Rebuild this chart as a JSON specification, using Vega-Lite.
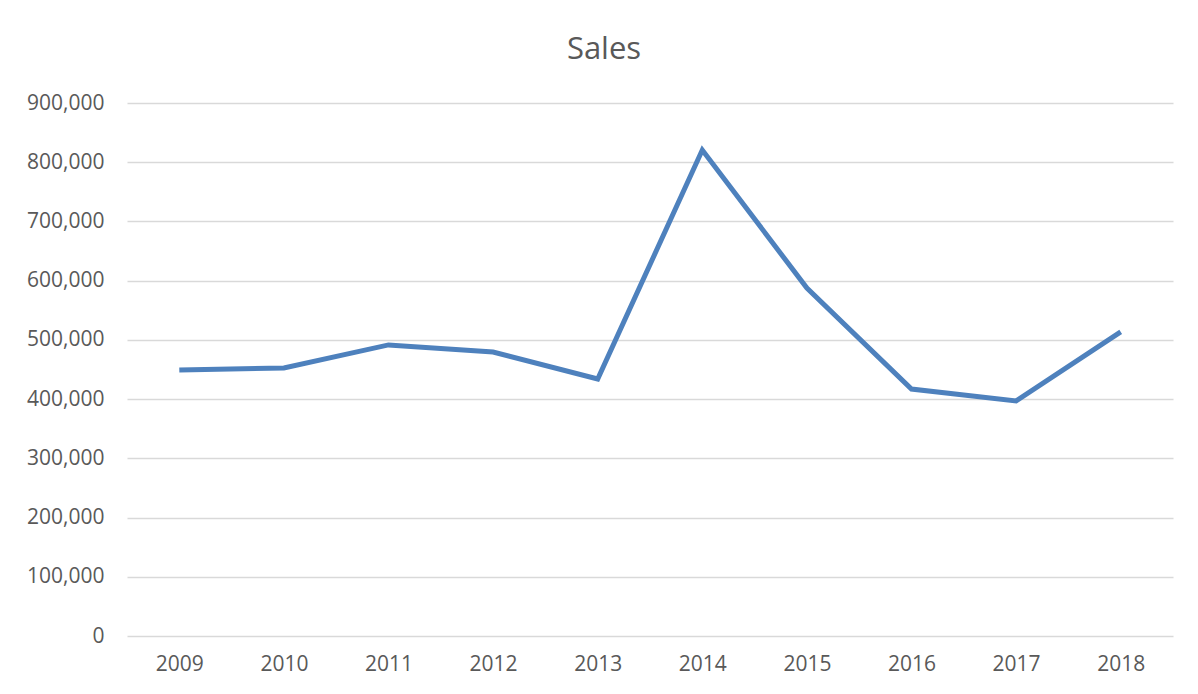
{
  "$schema": "https://vega.github.io/schema/vega-lite/v6.json",
  "autosize": "none",
  "width": 1046,
  "height": 533,
  "padding": {"left": 127, "top": 103, "right": 25, "bottom": 58},
  "background": "white",
  "title": {"text": "Sales", "fontSize": 31, "font": "Open Sans", "fontWeight": "normal", "color": "#595959", "anchor": "middle", "dx": -46, "offset": 26},
  "data": {"values": [
    {"year": "2009", "sales": 449000},
    {"year": "2010", "sales": 452500},
    {"year": "2011", "sales": 491500},
    {"year": "2012", "sales": 479500},
    {"year": "2013", "sales": 434000},
    {"year": "2014", "sales": 820500},
    {"year": "2015", "sales": 587500},
    {"year": "2016", "sales": 417000},
    {"year": "2017", "sales": 397000},
    {"year": "2018", "sales": 513500}
  ]},
  "mark": {"type": "line", "color": "#4E81BD", "strokeWidth": 5, "strokeJoin": "miter", "strokeCap": "butt"},
  "encoding": {
    "x": {"field": "year", "type": "ordinal", "scale": {"type": "point", "padding": 0.5},
      "axis": {"title": null, "labelAngle": 0, "ticks": false, "domain": false, "grid": false, "labelFontSize": 21, "labelFont": "Open Sans", "labelColor": "#595959", "labelPadding": 17}},
    "y": {"field": "sales", "type": "quantitative", "scale": {"domain": [0, 900000], "nice": false},
      "axis": {"title": null, "values": [0,100000,200000,300000,400000,500000,600000,700000,800000,900000], "format": ",.0f", "labelOverlap": false, "ticks": false, "domain": false, "grid": true, "gridColor": "#D9D9D9", "gridWidth": 1.5, "labelFontSize": 21, "labelFont": "Open Sans", "labelColor": "#595959", "labelPadding": 23}}
  },
  "config": {"view": {"stroke": null}}
}
